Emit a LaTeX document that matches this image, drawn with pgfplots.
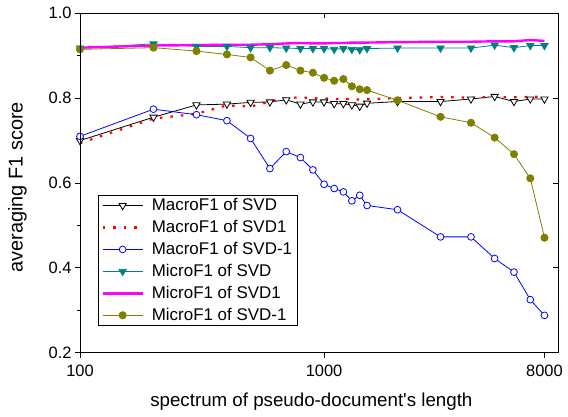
\documentclass[border=0pt]{standalone}
\usepackage{fontspec}
\setmainfont{Liberation Sans}
\usepackage{pgfplots}
\usepackage{pgfplotstable}
\pgfplotsset{compat=1.18}

\definecolor{tealc}{RGB}{0,128,128}
\definecolor{olivec}{RGB}{128,128,0}
\definecolor{magc}{RGB}{255,0,255}

% x = pseudo-document length, y = averaged F1
\pgfplotstableread{
x y
100 0.700
200 0.755
300 0.784
400 0.786
500 0.790
600 0.791
700 0.796
800 0.786
900 0.791
1000 0.791
1100 0.787
1200 0.787
1300 0.784
1400 0.781
1500 0.788
2000 0.792
3000 0.792
4000 0.798
5000 0.804
6000 0.792
7000 0.798
8000 0.798
}\macrosvd

\pgfplotstableread{
x y
100 0.694
200 0.752
300 0.763
400 0.783
500 0.780
600 0.792
700 0.800
800 0.802
900 0.800
1000 0.800
1100 0.797
1200 0.800
1300 0.796
1400 0.797
1500 0.798
2000 0.800
3000 0.803
4000 0.801
5000 0.803
6000 0.802
7000 0.803
8000 0.804
}\macrosvdone

\pgfplotstableread{
x y
100 0.710
200 0.774
300 0.761
400 0.747
500 0.705
600 0.634
700 0.674
800 0.660
900 0.631
1000 0.597
1100 0.587
1200 0.579
1300 0.558
1400 0.571
1500 0.547
2000 0.537
3000 0.473
4000 0.473
5000 0.422
6000 0.390
7000 0.325
8000 0.288
}\macrosvdm

\pgfplotstableread{
x y
100 0.918
200 0.928
300 0.922
400 0.922
500 0.919
600 0.919
700 0.918
800 0.917
900 0.917
1000 0.917
1100 0.915
1200 0.917
1300 0.915
1400 0.914
1500 0.917
2000 0.918
3000 0.918
4000 0.918
5000 0.925
6000 0.919
7000 0.924
8000 0.924
}\microsvd

\pgfplotstableread{
x y
100 0.919
200 0.924
300 0.925
400 0.926
500 0.926
600 0.927
700 0.929
800 0.930
900 0.929
1000 0.929
1100 0.930
1200 0.930
1300 0.931
1400 0.931
1500 0.931
2000 0.932
3000 0.933
4000 0.933
5000 0.934
6000 0.934
7000 0.937
8000 0.935
}\microsvdone

\pgfplotstableread{
x y
100 0.915
200 0.919
300 0.911
400 0.903
500 0.896
600 0.865
700 0.878
800 0.865
900 0.860
1000 0.848
1100 0.841
1200 0.845
1300 0.828
1400 0.821
1500 0.819
2000 0.795
3000 0.756
4000 0.742
5000 0.707
6000 0.668
7000 0.611
8000 0.471
}\microsvdm

\begin{document}
\begin{tikzpicture}
\useasboundingbox (-80bp,-64.3bp) rectangle (488bp,352.7bp);
\begin{axis}[
    at={(0,0)}, anchor=south west,
    scale only axis,
    width=478bp, height=339.4bp,
    xmode=log,
    xmin=100, xmax=9090,
    ymin=0.2, ymax=1.0,
    xtick={100,1000,8000},
    xticklabels={100,1000,8000},
    ytick={0.2,0.4,0.6,0.8,1.0},
    minor y tick num=1,
    tick align=outside,
    xtick pos=left, ytick pos=left,
    major tick length=5bp, minor tick length=3bp,
    axis line style={line width=0.9bp},
    every tick/.style={black, line width=0.8bp},
    tick label style={font=\fontsize{16.5}{19}\selectfont},
    yticklabel style={/pgf/number format/.cd, fixed, fixed zerofill, precision=1, assume math mode=true},
    xticklabel style={yshift=-4bp},
    xlabel={spectrum of pseudo-document\textquotesingle s length},
    ylabel={averaging F1 score},
    xlabel style={font=\fontsize{18.8}{22}\selectfont, at={(axis description cs:0.484,-0.144)}, anchor=center},
    ylabel style={font=\fontsize{20}{24}\selectfont, at={(axis description cs:-0.131,0.487)}, anchor=center},
    legend style={at={(0.038,0.465)}, anchor=north west, draw=black, line width=0.6bp,
        fill=white, font=\fontsize{17}{20}\selectfont, row sep=4.2bp, column sep=6bp,
        inner xsep=3bp, inner ysep=1.5bp},
    legend cell align=left,
    legend image code/.code={\draw[mark repeat=2,mark phase=2,#1] plot coordinates {(0bp,0bp) (20bp,0bp) (40bp,0bp)};},
]
\addplot[black, line width=0.8bp, mark=triangle*, mark size=4.2bp,
    mark options={rotate=180, fill=white, draw=black, solid}] table {\macrosvd};
\addlegendentry{MacroF1 of SVD}
\addplot[red, line width=2.2bp, dash pattern=on 2.5bp off 8bp] table {\macrosvdone};
\addlegendentry{MacroF1 of SVD1}
\addplot[blue, line width=0.8bp, mark=*, mark size=3.4bp,
    mark options={fill=white, draw=blue}] table {\macrosvdm};
\addlegendentry{MacroF1 of SVD-1}
\addplot[tealc, line width=0.8bp, mark=triangle*, mark size=4.2bp,
    mark options={rotate=180, fill=tealc, draw=tealc}] table {\microsvd};
\addlegendentry{MicroF1 of SVD}
\addplot[magc, line width=2.4bp] table {\microsvdone};
\addlegendentry{MicroF1 of SVD1}
\addplot[olivec, line width=0.8bp, mark=*, mark size=3.6bp,
    mark options={fill=olivec, draw=olivec}] table {\microsvdm};
\addlegendentry{MicroF1 of SVD-1}
\end{axis}
% mirrored inward ticks on top and right
\begin{axis}[
    at={(0,0)}, anchor=south west,
    scale only axis,
    width=478bp, height=339.4bp,
    xmode=log,
    xmin=100, xmax=9090,
    ymin=0.2, ymax=1.0,
    xtick={1000}, ytick={0.2,0.4,0.6,0.8,1.0},
    xminorticks=false,
    tick align=inside,
    xtick pos=right, ytick pos=right,
    major tick length=5bp,
    axis line style={line width=0.9bp},
    every tick/.style={black, line width=0.8bp},
    xticklabels={}, yticklabels={},
]
\end{axis}
\end{tikzpicture}
\end{document}
